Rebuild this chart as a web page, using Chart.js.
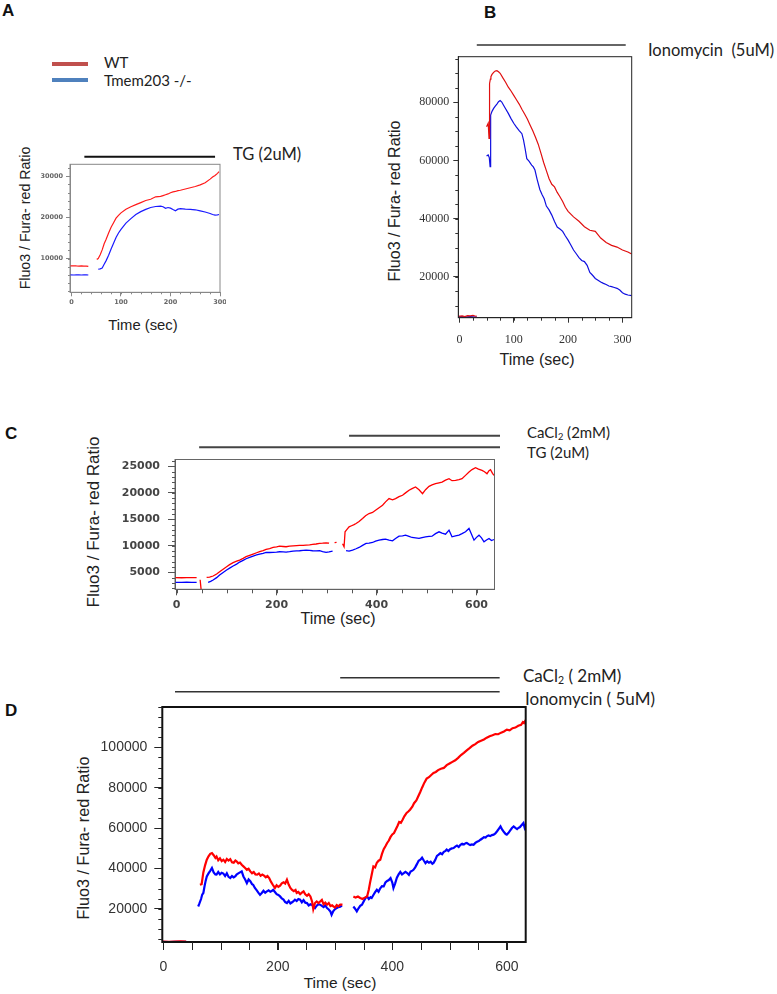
<!DOCTYPE html>
<html>
<head>
<meta charset="utf-8">
<script src="https://cdn.jsdelivr.net/npm/chart.js@4.4.0/dist/chart.umd.min.js"></script>
<style>
  body { margin: 0; background: #fff; width: 777px; height: 994px; position: relative; overflow: hidden;
         font-family: "Liberation Sans", Arial, sans-serif; color: #222; }
  canvas { position: absolute; }
  .t { position: absolute; white-space: pre; line-height: 1; transform: translateY(-50%); }
  .yt { position: absolute; white-space: nowrap; line-height: 1; transform: translate(-50%, -50%) rotate(-90deg); }
  .xt { position: absolute; white-space: nowrap; line-height: 1; transform: translate(-50%, -50%); }
  .panel { font-weight: bold; font-size: 17px; color: #111; }
  .cal { font-family: Lato, "Open Sans", sans-serif; color: #222; }
  .key { position: absolute; width: 36px; height: 4px; }
  sub { font-size: 0.62em; vertical-align: -0.25em; line-height: 0; }
</style>
</head>
<body>

<!-- panel A -->
<div class="t panel" style="left:2px; top:10px;">A</div>
<div class="key" style="left:52px; top:62px; background:#c0504d;"></div>
<div class="key" style="left:52px; top:78px; background:#4f81bd;"></div>
<div class="t cal" style="left:104px; top:62px; font-size:15px;">WT</div>
<div class="t cal" style="left:104px; top:80px; font-size:15px;">Tmem203 -/-</div>
<div class="t cal" style="left:233px; top:154px; font-size:16.5px;">TG (2uM)</div>
<div class="yt" style="left:25px; top:218px; font-size:14.2px;">Fluo3 / Fura- red Ratio</div>
<div class="xt" style="left:143px; top:325px; font-size:14.8px;">Time (sec)</div>
<canvas id="chartA" width="191" height="167" style="left:35px; top:145px;"></canvas>

<!-- panel B -->
<div class="t panel" style="left:484px; top:12px;">B</div>
<div class="t cal" style="left:648px; top:50px; font-size:16.5px;">Ionomycin  (5uM)</div>
<div class="yt" style="left:395px; top:201px; font-size:16px;">Fluo3 / Fura- red Ratio</div>
<div class="xt" style="left:537px; top:360px; font-size:16px;">Time (sec)</div>
<canvas id="chartB" width="225" height="317" style="left:415px; top:35px;"></canvas>

<!-- panel C -->
<div class="t panel" style="left:5px; top:433px;">C</div>
<div class="t cal" style="left:527px; top:432px; font-size:15px;">CaCl<sub>2</sub> (2mM)</div>
<div class="t cal" style="left:527px; top:452px; font-size:15px;">TG (2uM)</div>
<div class="yt" style="left:93px; top:522px; font-size:17px;">Fluo3 / Fura- red Ratio</div>
<div class="xt" style="left:338px; top:619px; font-size:16px;">Time (sec)</div>
<canvas id="chartC" width="395" height="190" style="left:110px; top:425px;"></canvas>

<!-- panel D -->
<div class="t panel" style="left:5px; top:710px;">D</div>
<div class="t cal" style="left:523px; top:675px; font-size:17px;">CaCl<sub>2</sub> ( 2mM)</div>
<div class="t cal" style="left:525px; top:698px; font-size:17px;">Ionomycin ( 5uM)</div>
<div class="yt" style="left:83px; top:838px; font-size:16.2px;">Fluo3 / Fura- red Ratio</div>
<div class="xt" style="left:340px; top:983px; font-size:15.5px;">Time (sec)</div>
<canvas id="chartD" width="445" height="325" style="left:90px; top:660px;"></canvas>

<script>
// ---- data: [time (sec), ratio], null = gap in the recording ----

// A: TG (2uM)
const aWT = [[-3,8200],[5,8250],[10,8200],[15,8180],[20,8220],[25,8150],[30,8170],[34,8100],[42,null],
  [51,9800],[54,10000],[58,10900],[62,12100],[66,13600],[70,14700],[75,16200],[80,17600],[85,18700],
  [90,19800],[95,20500],[100,21100],[110,22000],[120,22600],[130,23100],[140,23600],[150,24100],
  [160,24400],[170,25000],[180,25100],[185,25300],[190,25500],[195,25700],[200,26000],[205,26200],
  [210,26300],[215,26500],[220,26600],[230,26900],[240,27200],[250,27500],[260,27900],[270,28400],
  [280,29300],[285,29800],[290,30200],[295,30700],[298,31100]];
const aKO = [[-3,6050],[5,6000],[10,6030],[15,6050],[20,6000],[25,6020],[30,6050],[34,6000],[42,null],
  [54,7400],[58,7500],[62,7700],[66,8600],[70,9500],[75,10800],[80,12300],[85,13700],[90,15100],
  [95,16200],[100,17100],[110,18600],[120,19700],[130,20700],[140,21400],[150,21950],[160,22400],
  [170,22650],[180,22750],[185,22600],[190,22200],[195,22400],[200,22250],[205,21900],[210,21600],
  [215,22000],[220,22150],[230,22000],[240,21950],[250,21850],[260,21600],[270,21300],[280,20950],
  [285,20700],[290,20550],[295,20600],[298,20700]];
const aTreatFrom = [26];
const aTreatTo = [290];
const aXTicks = [0, 100, 200, 300];
const aYTicks = [10000, 20000, 30000];

// B: Ionomycin (5uM)
const bWT = [[-2,6400],[5,6500],[10,6300],[15,6600],[20,6500],[25,6700],[30,6400],[32,6500],[40,null],
  [50,71600],[53,72800],[54.5,67600],[55.5,86500],[57,88000],[58,88800],[60,89600],[63,90300],[66,90800],
  [69,90900],[72,90500],[75,90000],[80,88400],[85,86900],[90,85200],[95,83900],[100,82400],[105,80900],
  [110,79400],[115,77600],[120,76000],[125,74300],[130,72200],[135,70200],[140,68000],[145,65600],
  [150,62500],[155,59300],[160,56500],[165,53700],[170,51800],[175,50900],[180,49000],[185,47500],
  [190,45900],[195,43900],[200,42500],[210,40600],[220,39100],[230,37200],[240,36000],[250,35600],
  [260,33300],[270,31800],[280,30800],[290,30200],[300,29200],[310,28500],[317,27800]];
const bKO = [[-2,6200],[5,6300],[10,6100],[15,6200],[20,6300],[25,6200],[30,6100],[32,6200],[40,null],
  [50,61500],[53,61900],[55,61000],[56.5,57900],[57.5,75600],[60,76900],[63,77900],[66,78700],[69,79400],
  [72,80200],[75,80600],[78,80100],[81,79100],[85,77800],[90,76200],[95,74400],[100,72800],[105,71500],
  [110,70300],[115,69200],[118,67000],[121,64000],[124,60600],[128,59800],[133,58400],[136,57800],
  [139,56700],[143,53500],[148,50000],[152,48300],[156,46800],[160,44300],[165,43000],[170,41200],
  [175,39000],[180,37100],[185,36400],[190,35600],[195,34000],[200,32600],[205,30900],[210,29200],
  [215,27900],[220,26600],[225,25600],[230,25200],[235,23900],[240,21500],[245,20500],[250,19400],
  [255,18800],[260,18200],[265,17700],[270,17300],[275,16800],[280,16600],[285,16300],[290,16000],
  [295,15400],[300,14500],[305,14000],[310,13700],[317,13500]];
const bTreatFrom = [32];
const bTreatTo = [306];
const bXTicks = [0, 100, 200, 300];
const bYTicks = [20000, 40000, 60000, 80000];

// C: TG (2uM) then CaCl2 (2mM)
const cWT = [[-3,4000],[10,3980],[20,4010],[30,3990],[40,4000],[44,null],[47,3600],[49,1700],[53,null],
  [60,4060],[66,4100],[73,4310],[80,4700],[86,5125],[93,5600],[100,6070],[106,6450],[113,6820],
  [120,7100],[126,7320],[133,7650],[139,7950],[146,8200],[153,8450],[160,8700],[166,8890],[173,9100],
  [179,9330],[186,9500],[193,9700],[200,9800],[206,9950],[213,9880],[219,9830],[226,9950],[233,10000],
  [240,10050],[246,10080],[253,10100],[259,10140],[266,10200],[272,10270],[279,10350],[286,10450],
  [292,10500],[299,10580],[305,10500],[308,null],[316,10600],[320,10650],[324,null],[332,10400],
  [335,9830],[337,12650],[340,13000],[345,13590],[350,13800],[355,14000],[359,14220],[365,14600],
  [372,15160],[378,15700],[385,16100],[392,16300],[398,16730],[405,17200],[412,17670],[418,18300],
  [425,18920],[432,18700],[438,18920],[445,19300],[452,19550],[458,20000],[465,20490],[471,20800],
  [478,21110],[485,20600],[492,19860],[498,20600],[505,21240],[511,21500],[518,21740],[525,21900],
  [531,22050],[538,22400],[545,22680],[551,22300],[558,22370],[565,22500],[571,22680],[578,23300],
  [585,23940],[591,24400],[598,24750],[604,24500],[611,24250],[616,24000],[621,23620],[625,24200],
  [628,24370],[632,23700],[635,23310]];
const cKO = [[-3,3120],[10,3100],[20,3130],[30,3110],[40,3120],[48,null],[63,3120],[68,3300],[73,3560],
  [80,4000],[86,4500],[93,4970],[100,5440],[106,5800],[113,6190],[120,6550],[126,6940],[133,7250],
  [139,7570],[146,7830],[153,8070],[160,8280],[166,8450],[173,8600],[179,8760],[186,8750],[193,8760],
  [200,8800],[206,8890],[213,8850],[219,8820],[226,8900],[233,9010],[240,9050],[246,9080],[253,9150],
  [259,9200],[266,9150],[272,9080],[279,9050],[286,9080],[292,8900],[299,8760],[305,8850],[312,9010],
  [316,null],[339,9080],[345,9000],[352,9200],[359,9450],[365,9700],[372,10100],[379,10450],[385,10500],
  [392,10640],[398,10900],[405,11080],[412,11200],[418,11270],[425,11100],[432,10960],[438,11400],
  [445,11830],[452,11900],[458,12020],[465,11800],[471,11580],[478,11500],[485,11400],[491,11550],
  [498,11710],[505,11800],[511,11830],[518,12300],[525,12650],[531,12400],[538,12210],[545,12960],
  [551,11710],[558,11900],[565,12020],[571,12300],[578,12650],[585,13280],[590,12200],[595,11080],
  [600,11600],[605,12020],[610,11500],[615,10770],[620,11100],[625,11400],[630,11000],[635,11200]];
const cTreatFrom = [45, 345];   // TG, CaCl2
const cTreatTo = [647, 647];
const cXTicks = [0, 200, 400, 600];
const cYTicks = [5000, 10000, 15000, 20000, 25000];

// D: Ionomycin (5uM) then CaCl2 (2mM)
const dWT = [[-1.7,3700],[10,3600],[20,3700],[30,3800],[40,3700],[50,null],
  [64,31900],[67,32200],[70,38000],[73,41500],[76,44300],[79,46000],[82,47200],[85,47600],[88,46500],
  [91,45200],[93,45900],[96,44000],[99,45000],[102,43600],[105,44300],[108,43200],[111,44700],
  [114,43900],[117,44600],[120,43000],[123,42800],[126,43900],[128,43500],[131,42500],[134,42900],
  [137,41800],[140,41000],[143,40200],[146,39300],[149,39800],[152,38500],[155,37600],[158,38200],
  [161,37000],[164,36900],[167,37500],[170,36300],[173,36900],[176,36400],[179,35600],[182,36200],
  [185,35200],[188,33400],[191,32000],[195,30300],[198,31600],[201,30800],[204,31400],[207,32600],
  [210,33100],[213,32500],[216,34400],[219,32000],[222,30300],[225,29300],[228,28700],[231,29300],
  [233,27800],[236,28300],[239,27200],[242,28000],[245,28600],[248,27100],[251,26400],[254,27200],
  [257,26100],[260,23500],[262,19800],[265,22800],[268,23600],[271,22800],[274,23600],[277,24400],
  [280,22200],[283,23000],[286,22000],[289,22800],[292,21300],[295,21700],[297,21100],[300,20600],
  [303,21800],[306,21200],[309,22000],[313,22000],[320,null],
  [332,26100],[336,25500],[340,26000],[344,25300],[348,24800],[352,25500],[356,26100],[359,29500],
  [361,32700],[364,36800],[367,41000],[370,40500],[373,42800],[376,43800],[379,44300],[382,47200],
  [385,49500],[388,51000],[391,52600],[394,53800],[397,55600],[400,56800],[403,57500],[406,59300],
  [409,61000],[412,63000],[415,62600],[418,64100],[421,65800],[425,67500],[428,68200],[431,69100],
  [435,70600],[438,72300],[442,73700],[445,75500],[449,78000],[452,80000],[456,82500],[460,84500],
  [464,85200],[468,86300],[472,87300],[476,87800],[480,88700],[485,89400],[490,89800],[495,91200],
  [500,92000],[505,92800],[510,93600],[515,94800],[520,96200],[525,97300],[530,98500],[535,99600],
  [540,100800],[545,101600],[550,102700],[555,103300],[560,103900],[565,104800],[570,105500],
  [575,106000],[580,106600],[585,106500],[590,107300],[595,107900],[600,108800],[605,108400],
  [610,109500],[615,109800],[620,110700],[625,111200],[628,112500],[630,112000],[633,113500]];
const dKO = [[-1.7,3600],[10,3500],[20,3600],[30,3550],[40,3600],[50,null],
  [61,21100],[63,22500],[66,24800],[68,27000],[70,27800],[72,31000],[74,33800],[76,36000],[79,37500],
  [82,38800],[85,40200],[88,38000],[91,37000],[93,36900],[96,38200],[99,37000],[102,37800],[105,37400],
  [108,36200],[111,37600],[114,35800],[117,35200],[120,36200],[123,35500],[126,36100],[128,36900],
  [131,37500],[134,38000],[137,38500],[140,36000],[143,34500],[146,32700],[149,34500],[152,33600],
  [155,32200],[157,31900],[160,30300],[163,29200],[166,28000],[169,26900],[172,27800],[175,28900],
  [178,27900],[181,28600],[184,29100],[187,28400],[190,28900],[192,29400],[195,28300],[198,27200],
  [201,26800],[204,26100],[207,25100],[210,24500],[213,23300],[216,22800],[219,23900],[222,22600],
  [225,23200],[227,23600],[230,24500],[233,23800],[236,24800],[239,24500],[242,23200],[245,24300],
  [248,23000],[251,22800],[254,21600],[257,22200],[260,21900],[262,21100],[265,20300],[268,21500],
  [271,22200],[274,22000],[277,21400],[280,20800],[283,21600],[286,20300],[289,19600],[292,18600],
  [294,17000],[297,18800],[300,19800],[303,20300],[306,20800],[309,21000],[312,21600],[320,null],
  [332,21100],[335,20000],[338,18700],[341,20200],[344,21400],[347,22000],[350,23600],[353,25200],
  [356,26100],[359,24800],[362,25700],[364,25300],[367,26800],[370,28200],[373,29400],[376,28400],
  [379,30100],[382,31200],[385,31100],[388,33000],[391,33800],[394,34200],[397,35200],[400,33000],
  [402,30300],[405,32600],[408,35400],[411,37000],[414,38200],[417,37000],[420,37600],[423,38300],
  [426,37700],[429,36800],[432,38400],[435,38900],[437,39300],[440,40500],[443,42100],[446,43800],
  [449,44300],[452,45300],[455,43900],[458,42600],[461,43500],[464,42800],[467,43300],[470,42300],
  [472,42700],[475,44200],[478,46200],[481,46800],[484,47600],[487,47000],[490,48200],[493,48700],
  [495,49300],[498,48600],[501,49500],[504,49900],[507,50100],[510,50800],[513,51300],[516,50600],
  [519,51700],[522,52200],[525,51800],[528,52500],[530,52600],[533,52000],[536,51600],[539,51900],
  [542,51700],[545,52600],[548,53200],[551,53500],[554,54200],[557,54800],[560,55500],[563,55300],
  [565,55900],[568,56300],[571,56000],[574,56500],[577,56700],[580,57300],[583,58400],[586,59600],
  [589,60800],[592,59200],[595,58000],[598,57000],[600,56700],[603,57600],[606,58800],[609,60000],
  [612,60800],[615,60100],[618,59500],[620,60000],[623,60500],[626,61500],[629,62500],[631,60300],
  [633,62000]];
const dTreatFrom = [20.5, 309];  // Ionomycin, CaCl2
const dTreatTo = [587.5, 587.5];
const dXTicks = [0, 200, 400, 600];
const dYTicks = [20000, 40000, 60000, 80000, 100000];

// ---- helpers ----
function toPoints(series) {
    return series.map(([t, v]) => ({ x: t, y: v }));
}

// frame box, minor ticks and the treatment bars above the plot
const panelDecor = {
    id: 'panelDecor',
    afterDraw(chart, args, o) {
        const { ctx, chartArea: a, scales: { x, y } } = chart;
        ctx.save();
        ctx.strokeStyle = o.boxColor;
        ctx.lineWidth = o.boxWidth;
        ctx.strokeRect(a.left, a.top, a.right - a.left, a.bottom - a.top);

        ctx.strokeStyle = o.tickColor;
        ctx.lineWidth = 1;
        ctx.beginPath();
        for (let v = Math.ceil(x.min / o.minorX) * o.minorX; v <= x.max; v += o.minorX) {
            const px = Math.round(x.getPixelForValue(v)) + 0.5;
            ctx.moveTo(px, a.bottom);
            ctx.lineTo(px, a.bottom + o.minorXLen);
        }
        for (let v = Math.ceil(y.min / o.minorY) * o.minorY; v <= y.max; v += o.minorY) {
            const py = Math.round(y.getPixelForValue(v)) + 0.5;
            ctx.moveTo(a.left, py);
            ctx.lineTo(a.left - o.minorYLen, py);
        }
        ctx.stroke();

        ctx.strokeStyle = o.barColor;
        ctx.lineWidth = o.barWidth;
        o.bars.forEach(b => {
            ctx.beginPath();
            ctx.moveTo(x.getPixelForValue(b.from), a.top - b.dy);
            ctx.lineTo(x.getPixelForValue(b.to), a.top - b.dy);
            ctx.stroke();
        });
        ctx.restore();
    }
};

function axis(min, max, ticks, size, s) {
    return {
        type: 'linear',
        min: min,
        max: max,
        afterBuildTicks: scale => { scale.ticks = ticks.map(v => ({ value: v })); },
        afterFit: scale => {
            if (scale.isHorizontal()) scale.height = size; else scale.width = size;
            scale.paddingLeft = scale.paddingRight = scale.paddingTop = scale.paddingBottom = 0;
        },
        ticks: {
            autoSkip: false,
            maxRotation: 0,
            padding: s.pad,
            color: s.color,
            font: s.font,
            callback: v => String(v)
        },
        grid: {
            drawOnChartArea: false,
            drawTicks: true,
            tickLength: s.len,
            tickColor: s.tickColor,
            tickWidth: 1
        },
        border: { display: true, color: s.tickColor, width: 1 }
    };
}

// canvas box and plot area are given in page pixels
function makeChart(id, canvasBox, plot, datasets, xAxis, yAxis, decor) {
    const [L, T, R, B] = canvasBox;
    const [pl, pt, pr, pb] = plot;
    return new Chart(document.getElementById(id), {
        type: 'line',
        data: { datasets: datasets },
        options: {
            responsive: false,
            animation: false,
            events: [],
            spanGaps: false,
            layout: { padding: { left: 0, bottom: 0, top: pt - T, right: R - pr } },
            elements: { point: { radius: 0 }, line: { tension: 0 } },
            scales: {
                x: axis(xAxis.min, xAxis.max, xAxis.ticks, B - pb, xAxis.style),
                y: axis(yAxis.min, yAxis.max, yAxis.ticks, pl - L, yAxis.style)
            },
            plugins: {
                legend: { display: false },
                tooltip: { enabled: false },
                panelDecor: decor
            }
        },
        plugins: [panelDecor]
    });
}

function bars(from, to, dys) {
    return from.map((f, i) => ({ from: f, to: to[i], dy: dys[i] }));
}

// ---- panel A ----
const styleA = { pad: 3, len: 4, color: '#666', tickColor: '#888',
                 font: { family: 'DejaVu Sans', size: 6.5, weight: 'bold' } };
makeChart('chartA', [35, 145, 226, 312], [70, 164.3, 220, 292.3],
    [
        { data: toPoints(aWT), borderColor: '#ff1a1a', borderWidth: 1.2 },
        { data: toPoints(aKO), borderColor: '#1a1aff', borderWidth: 1.2 }
    ],
    { min: -3, max: 300, ticks: aXTicks, style: { ...styleA, pad: 2 } },
    { min: 1800, max: 32900, ticks: aYTicks, style: styleA },
    { boxColor: '#888', boxWidth: 1, tickColor: '#888', minorX: 20, minorXLen: 2, minorY: 2000, minorYLen: 2,
      barColor: '#111', barWidth: 2, bars: bars(aTreatFrom, aTreatTo, [7.6]) });

// ---- panel B ----
const styleB = { pad: 4, len: 5, color: '#333', tickColor: '#333',
                 font: { family: 'Liberation Sans Narrow', size: 12 } };
makeChart('chartB', [415, 35, 640, 352], [458.3, 56.7, 631.7, 317.7],
    [
        { data: toPoints(bWT), borderColor: '#e01010', borderWidth: 1.2 },
        { data: toPoints(bKO), borderColor: '#1010e0', borderWidth: 1.2 }
    ],
    { min: -2, max: 317, ticks: bXTicks, style: { ...styleB, pad: 10 } },
    { min: 5900, max: 95700, ticks: bYTicks, style: styleB },
    { boxColor: '#222', boxWidth: 1, tickColor: '#333', minorX: 25, minorXLen: 3, minorY: 5000, minorYLen: 3,
      barColor: '#333', barWidth: 1.5, bars: bars(bTreatFrom, bTreatTo, [11.7]) });

// ---- panel C ----
const styleC = { pad: 8, len: 7, color: '#444', tickColor: '#555',
                 font: { family: 'DejaVu Sans', size: 11, weight: 'bold' } };
makeChart('chartC', [110, 425, 505, 615], [175, 459.5, 494.5, 589.3],
    [
        { data: toPoints(cWT), borderColor: '#ff0000', borderWidth: 1.3 },
        { data: toPoints(cKO), borderColor: '#0000ff', borderWidth: 1.3 }
    ],
    { min: -3.3, max: 636, ticks: cXTicks, style: { ...styleC, pad: 3, len: 6 } },
    { min: 1800, max: 26300, ticks: cYTicks, style: styleC },
    { boxColor: '#666', boxWidth: 1, tickColor: '#555', minorX: 50, minorXLen: 4, minorY: 1000, minorYLen: 3,
      barColor: '#444', barWidth: 2, bars: bars(cTreatFrom, cTreatTo, [12.2, 23.8]) });

// ---- panel D ----
const styleD = { pad: 7, len: 8, color: '#333', tickColor: '#222',
                 font: { family: 'Liberation Sans', size: 14 } };
makeChart('chartD', [90, 660, 535, 985], [162.3, 707, 525.7, 942],
    [
        { data: toPoints(dWT), borderColor: '#ff0000', borderWidth: 2.2 },
        { data: toPoints(dKO), borderColor: '#0000ff', borderWidth: 2.2 }
    ],
    { min: -1.7, max: 633, ticks: dXTicks, style: { ...styleD, pad: 8.5 } },
    { min: 3500, max: 120000, ticks: dYTicks, style: styleD },
    { boxColor: '#111', boxWidth: 2, tickColor: '#222', minorX: 50, minorXLen: 8, minorY: 5000, minorYLen: 4,
      barColor: '#333', barWidth: 1.5, bars: bars(dTreatFrom, dTreatTo, [15.3, 29.3]) });
</script>
</body>
</html>
